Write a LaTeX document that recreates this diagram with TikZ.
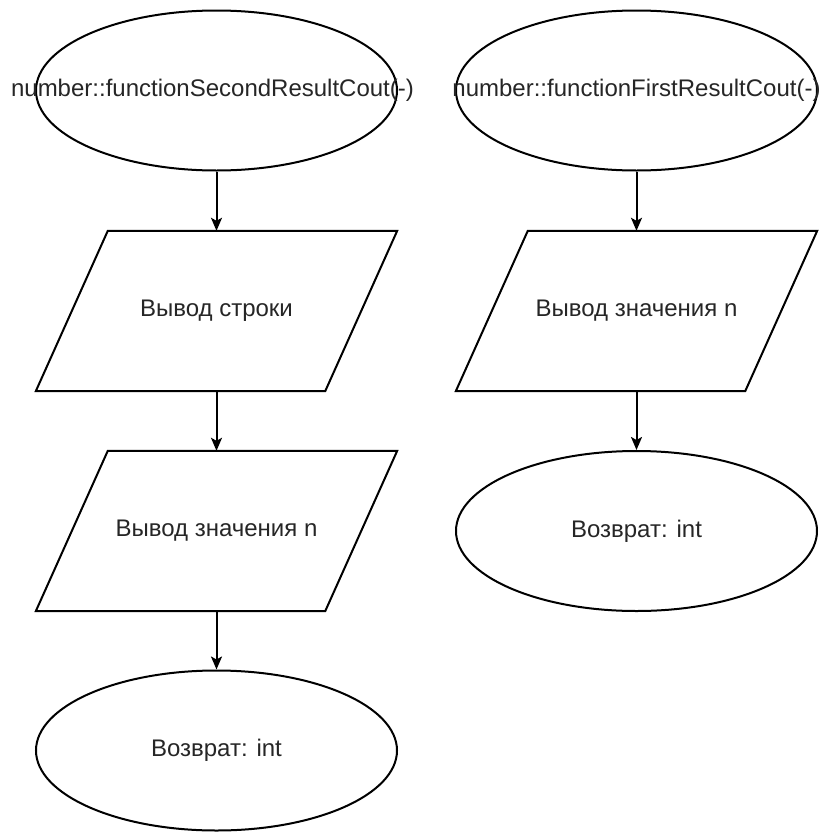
\documentclass[tikz,border=0pt]{standalone}
\usepackage{fontspec}
\setmainfont{Liberation Sans}
\usetikzlibrary{shapes.geometric,arrows.meta,calc}

\tikzset{
  x=1pt, y=-1pt,
  line/.style={line width=2pt, draw=black},
  lbl/.style={font=\fontsize{24}{28}\selectfont, text=black!85, inner sep=0pt},
  term/.style={ellipse, line, minimum width=361pt, minimum height=160pt, inner sep=0pt},
  % input/output block: the node's width is the top edge of the parallelogram
  iobox/.style={rectangle, minimum width=289pt, minimum height=160pt, inner sep=0pt, lbl},
  flow/.style={line, -{Stealth[length=13pt,width=11pt,inset=3pt]}}
}

% outline of an input/output block, slanted by 36pt on each side
\newcommand{\ioshape}[1]{%
  \draw[line, line join=miter] ($(#1.north west)+(36,0)$) -- ($(#1.north east)+(36,0)$)
    -- ($(#1.south east)-(36,0)$) -- ($(#1.south west)-(36,0)$) -- cycle;}

\begin{document}
\begin{tikzpicture}
\useasboundingbox (0,0) rectangle (819,833);

% left column
\node[term] (e1) at (216.5,90.5) {};
\node[lbl] (e1t) at ($(e1)+(-4,0)$) {number::functionSecondResultCout(-)};
\node[iobox] (p1) at (216.5,311) {Вывод строки};
\node[iobox] (p2) at (216.5,531) {Вывод значения n};
\node[term] (e2) at (216.5,750.5) {};
\node[lbl] (e2t) at (e2) {Возврат: int};
\ioshape{p1}
\ioshape{p2}

% right column
\node[term] (e3) at (636.5,90.5) {};
\node[lbl] (e3t) at ($(e3)+(0,0)$) {number::functionFirstResultCout(-)};
\node[iobox] (p3) at (636.5,311) {Вывод значения n};
\node[term] (e4) at (636.5,531) {};
\node[lbl] (e4t) at (e4) {Возврат: int};
\ioshape{p3}

% connectors
\draw[flow] (e1) -- (p1);
\draw[flow] (p1) -- (p2);
\draw[flow] (p2) -- (e2);
\draw[flow] (e3) -- (p3);
\draw[flow] (p3) -- (e4);
\end{tikzpicture}
\end{document}
